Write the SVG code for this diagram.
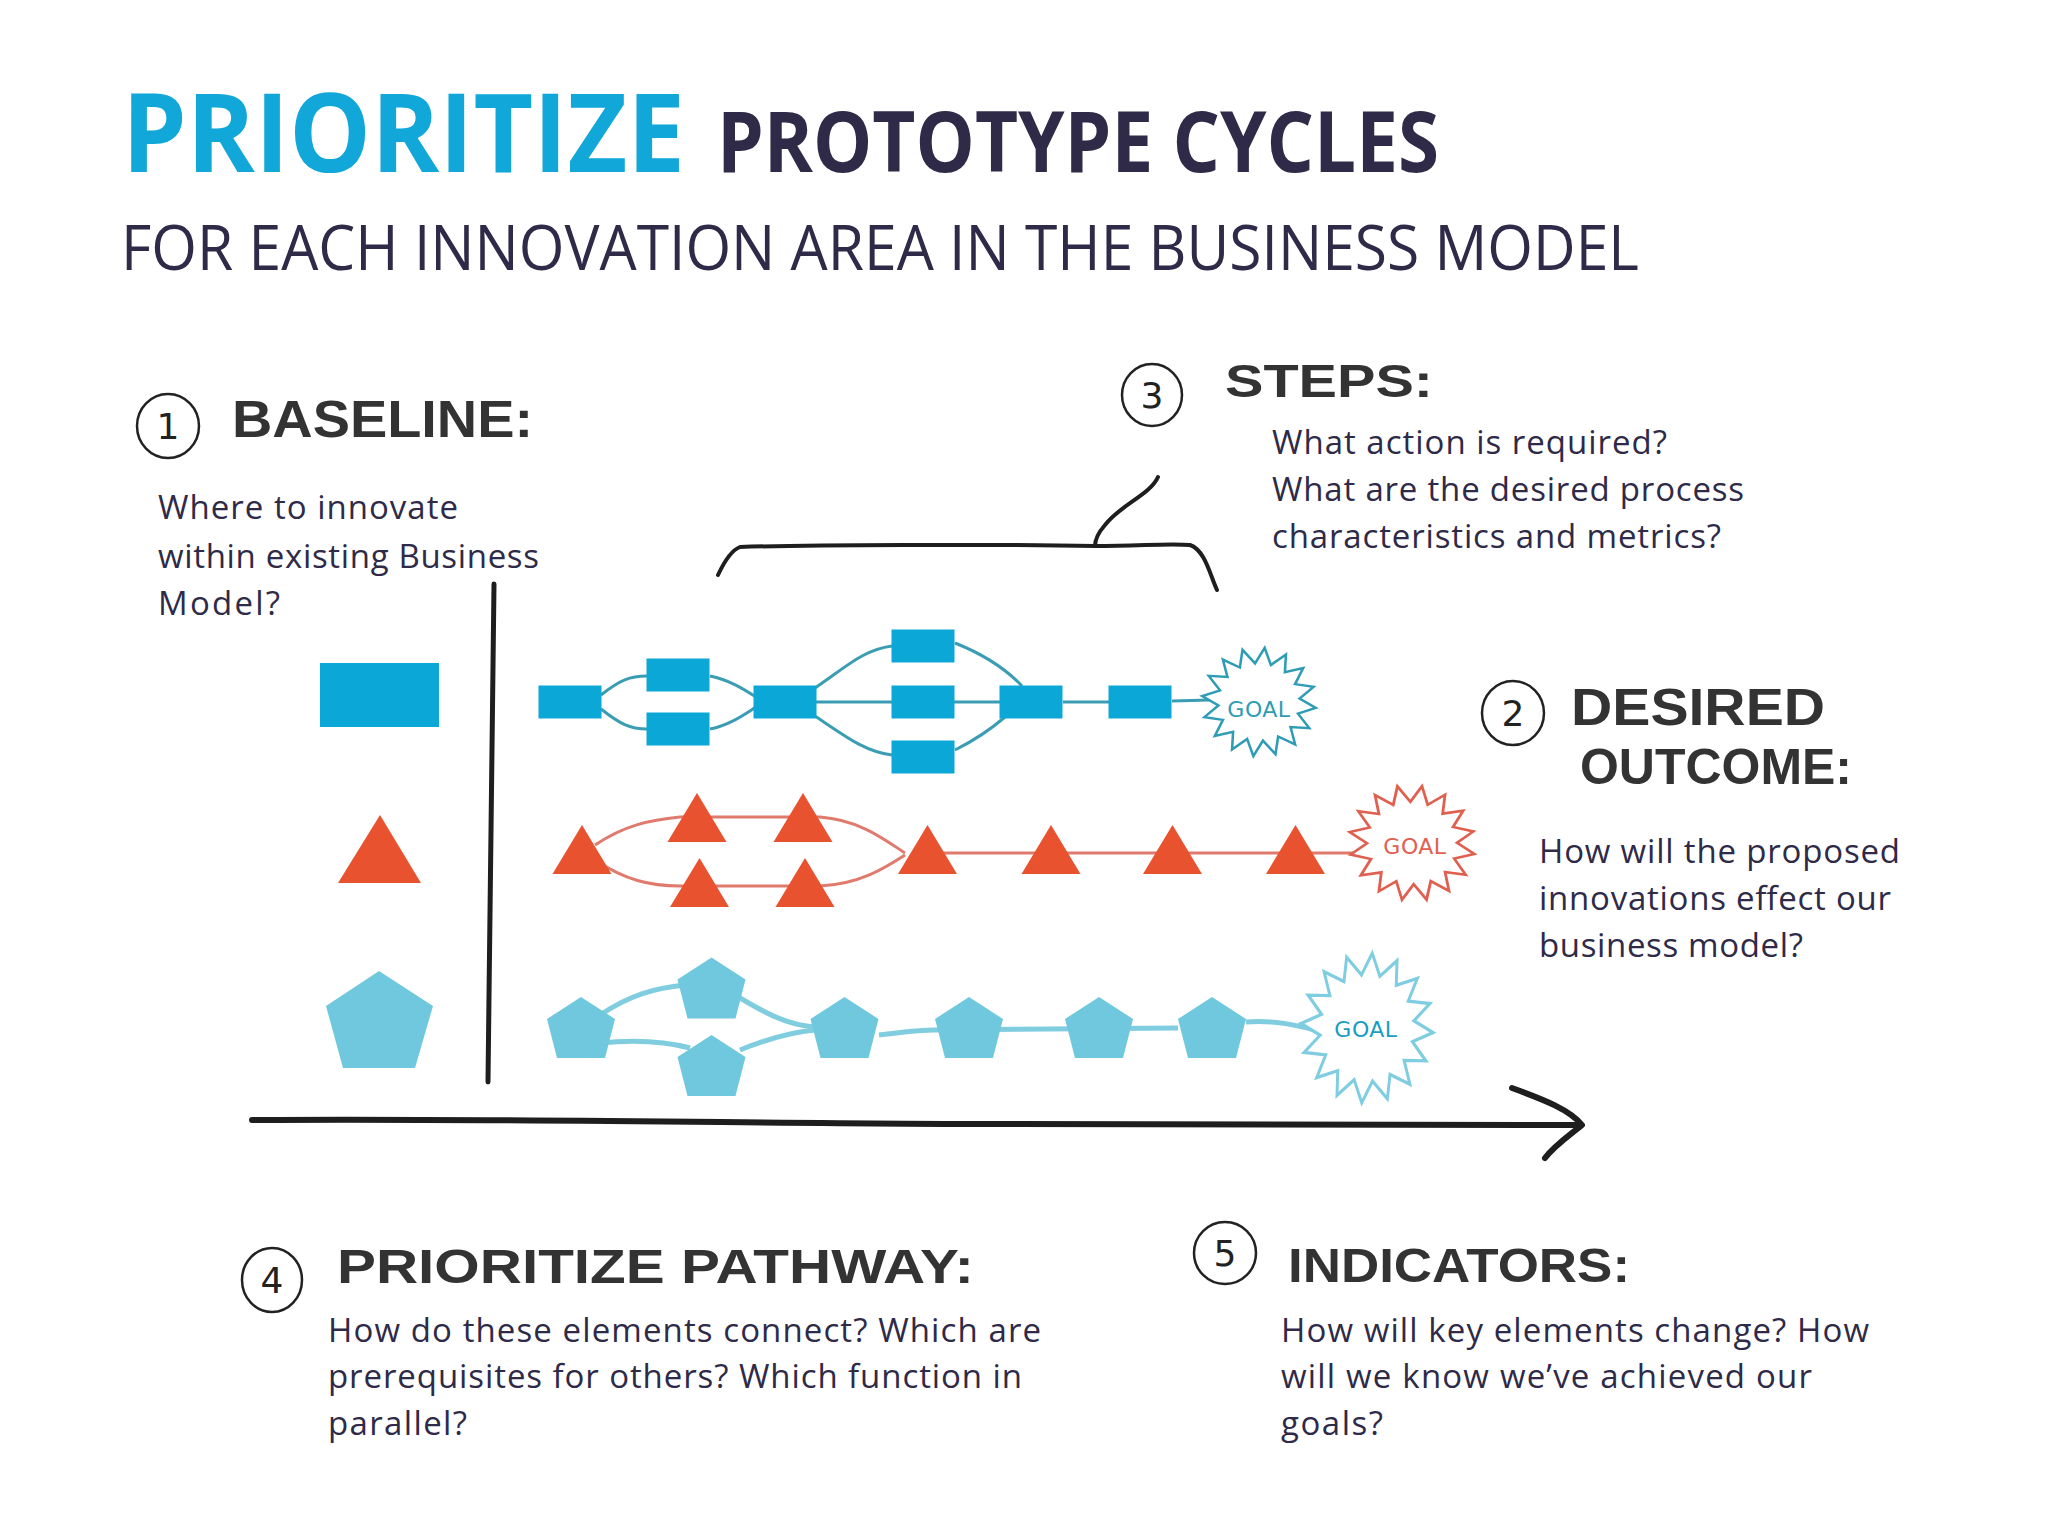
<svg xmlns="http://www.w3.org/2000/svg" width="2048" height="1536" viewBox="0 0 2048 1536">
<style>
.body{font-family:"Open Sans","Liberation Sans",sans-serif;font-size:33px;fill:#2e2a48}
.hand{font-family:"Liberation Sans","DejaVu Sans",sans-serif;font-weight:900;fill:#333333}
.num{font-family:"DejaVu Sans","Liberation Sans",sans-serif;font-size:36px;fill:#222222;text-anchor:middle}
.ring{fill:none;stroke:#222222;stroke-width:2.5}
.ink{fill:none;stroke:#1e1e1e;stroke-linecap:round;stroke-linejoin:round}
.sq{fill:#0ba7d7}
.tri{fill:#e8522f}
.pent{fill:#6fc8de}
.c1{fill:none;stroke:#3b9db3;stroke-width:3}
.c2{fill:none;stroke:#e07a6c;stroke-width:3}
.c3{fill:none;stroke:#80cde0;stroke-width:5}
.goaltxt{font-family:"DejaVu Sans","Liberation Sans",sans-serif;font-size:22px;text-anchor:middle;letter-spacing:0.5px}
</style>
<defs>
<rect id="sqShape" x="-31.5" y="-16.5" width="63" height="33"/>
<polygon id="triShape" points="0,-24.5 29.5,24.5 -29.5,24.5"/>
<polygon id="pentShape" points="0,-30.5 34,-8.5 24,30.5 -24,30.5 -34,-8.5"/>
<polygon id="burst" points="56,0 39.2,7.8 51.7,21.4 33.3,22.2 39.6,39.6 22.2,33.3 21.4,51.7 7.8,39.2 0,56 -7.8,39.2 -21.4,51.7 -22.2,33.3 -39.6,39.6 -33.3,22.2 -51.7,21.4 -39.2,7.8 -56,0 -39.2,-7.8 -51.7,-21.4 -33.3,-22.2 -39.6,-39.6 -22.2,-33.3 -21.4,-51.7 -7.8,-39.2 0,-56 7.8,-39.2 21.4,-51.7 22.2,-33.3 39.6,-39.6 33.3,-22.2 51.7,-21.4 39.2,-7.8"/>
</defs>
<rect width="2048" height="1536" fill="#ffffff"/>

<g id="title">
<text x="122" y="172" font-family="'Open Sans','Liberation Sans',sans-serif" font-weight="700" font-size="109" fill="#11a7d8" textLength="563" lengthAdjust="spacingAndGlyphs">PRIORITIZE</text>
<text x="717" y="172" font-family="'Open Sans','Liberation Sans',sans-serif" font-weight="700" font-size="84" fill="#2e2a48" textLength="722" lengthAdjust="spacingAndGlyphs">PROTOTYPE CYCLES</text>
<text x="121" y="270" font-family="'Open Sans','Liberation Sans',sans-serif" font-size="62" fill="#2e2a48" textLength="1518" lengthAdjust="spacingAndGlyphs">FOR EACH INNOVATION AREA IN THE BUSINESS MODEL</text>
</g>

<g id="baseline-label">
<ellipse class="ring" cx="168" cy="426" rx="31" ry="32"/>
<text class="num" x="168" y="439">1</text>
<text class="hand" x="232" y="437" font-size="52" textLength="301" lengthAdjust="spacingAndGlyphs">BASELINE:</text>
<text class="body" x="158" y="519" textLength="300">Where to innovate</text>
<text class="body" x="158" y="568" textLength="381">within existing Business</text>
<text class="body" x="158" y="615" textLength="122">Model?</text>
</g>

<g id="steps-label">
<ellipse class="ring" cx="1152" cy="395" rx="30" ry="31"/>
<text class="num" x="1152" y="408">3</text>
<text class="hand" x="1225" y="397" font-size="46" textLength="208" lengthAdjust="spacingAndGlyphs">STEPS:</text>
<text class="body" x="1272" y="454" textLength="395">What action is required?</text>
<text class="body" x="1272" y="501" textLength="472">What are the desired process</text>
<text class="body" x="1272" y="548" textLength="449">characteristics and metrics?</text>
</g>

<g id="outcome-label">
<ellipse class="ring" cx="1513" cy="713" rx="31" ry="32"/>
<text class="num" x="1513" y="726">2</text>
<text class="hand" x="1571" y="725" font-size="52" textLength="254" lengthAdjust="spacingAndGlyphs">DESIRED</text>
<text class="hand" x="1580" y="784" font-size="50" textLength="272" lengthAdjust="spacingAndGlyphs">OUTCOME:</text>
<text class="body" x="1539" y="863" textLength="361">How will the proposed</text>
<text class="body" x="1539" y="910" textLength="352">innovations effect our</text>
<text class="body" x="1539" y="957" textLength="264">business model?</text>
</g>

<g id="pathway-label">
<ellipse class="ring" cx="272" cy="1280" rx="30" ry="32"/>
<text class="num" x="272" y="1293">4</text>
<text class="hand" x="337" y="1283" font-size="49" textLength="637" lengthAdjust="spacingAndGlyphs">PRIORITIZE PATHWAY:</text>
<text class="body" x="328" y="1342" textLength="713">How do these elements connect? Which are</text>
<text class="body" x="328" y="1388" textLength="694">prerequisites for others? Which function in</text>
<text class="body" x="328" y="1435" textLength="139">parallel?</text>
</g>

<g id="indicators-label">
<ellipse class="ring" cx="1225" cy="1253" rx="31" ry="31"/>
<text class="num" x="1225" y="1266">5</text>
<text class="hand" x="1288" y="1282" font-size="48" textLength="342" lengthAdjust="spacingAndGlyphs">INDICATORS:</text>
<text class="body" x="1281" y="1342" textLength="588">How will key elements change? How</text>
<text class="body" x="1281" y="1388" textLength="531">will we know we’ve achieved our</text>
<text class="body" x="1281" y="1435" textLength="102">goals?</text>
</g>

<g id="axes">
<path class="ink" stroke-width="5" d="M494,584 C493,700 490,900 488,1082"/>
<path class="ink" stroke-width="6" d="M252,1120 C500,1118 800,1124 1000,1124 S1400,1123 1580,1125"/>
<path class="ink" stroke-width="6" d="M1512,1088 C1545,1100 1570,1110 1582,1125 C1570,1135 1555,1145 1545,1158"/>
<path class="ink" stroke-width="4" d="M718,575 C725,560 732,550 740,547 C800,545 1000,544 1095,546 C1140,546 1170,543 1190,545 C1205,550 1210,575 1217,590"/>
<path class="ink" stroke-width="4" d="M1158,477 C1150,495 1120,505 1105,525 C1098,533 1095,540 1095,546"/>
</g>

<g id="connectors">
<path class="c1" d="M601,695 C620,680 630,676 647,676"/>
<path class="c1" d="M601,709 C620,724 630,729 647,729"/>
<path class="c1" d="M710,676 C730,680 745,690 756,697"/>
<path class="c1" d="M710,729 C730,725 745,714 756,707"/>
<path class="c1" d="M812,690 C845,668 862,650 892,646"/>
<path class="c1" d="M816,702 L1000,702"/>
<path class="c1" d="M812,714 C845,736 865,752 892,755"/>
<path class="c1" d="M955,643 C985,655 1005,668 1022,686"/>
<path class="c1" d="M955,750 C975,740 990,730 1005,717"/>
<path class="c1" d="M1063,702 L1109,702"/>
<path class="c1" d="M1172,701 L1210,700"/>
<path class="c2" d="M595,845 C625,825 650,820 680,817 L820,817 C860,820 885,840 905,853"/>
<path class="c2" d="M595,860 C625,880 650,886 680,886 L820,886 C860,884 885,868 905,855"/>
<path class="c2" d="M930,853 L1355,853"/>
<path class="c3" d="M600,1015 C630,995 655,988 685,985"/>
<path class="c3" d="M600,1043 C630,1040 660,1040 690,1048"/>
<path class="c3" d="M735,995 C760,1010 785,1025 815,1027"/>
<path class="c3" d="M740,1050 C765,1040 790,1032 815,1030"/>
<path class="c3" d="M879,1035 C900,1033 915,1030 934,1030 L1178,1028"/>
<path class="c3" d="M1246,1022 C1275,1020 1295,1025 1315,1030"/>
</g>

<g id="baseline-square"><rect class="sq" x="320" y="663" width="119" height="64"/></g>
<g id="baseline-triangle"><polygon class="tri" points="380,815 421,883 338,883"/></g>
<g id="baseline-pentagon"><polygon class="pent" points="379,971 433,1006 415,1068 343,1068 326,1006"/></g>

<g id="sq1"><use href="#sqShape" class="sq" x="570" y="702"/></g>
<g id="sq2"><use href="#sqShape" class="sq" x="678" y="675"/></g>
<g id="sq3"><use href="#sqShape" class="sq" x="678" y="729"/></g>
<g id="sq4"><use href="#sqShape" class="sq" x="785" y="702"/></g>
<g id="sq5"><use href="#sqShape" class="sq" x="923" y="646"/></g>
<g id="sq6"><use href="#sqShape" class="sq" x="923" y="702"/></g>
<g id="sq7"><use href="#sqShape" class="sq" x="923" y="757"/></g>
<g id="sq8"><use href="#sqShape" class="sq" x="1031" y="702"/></g>
<g id="sq9"><use href="#sqShape" class="sq" x="1140" y="702"/></g>
<g id="goal1">
<use href="#burst" transform="translate(1259,702) rotate(6) scale(1.02,0.97)" fill="#ffffff" stroke="#2e9cb5" stroke-width="2.5" vector-effect="non-scaling-stroke"/>
<text class="goaltxt" x="1259" y="717" fill="#2e9cb5">GOAL</text>
</g>

<g id="tri1"><use href="#triShape" class="tri" x="582" y="849.5"/></g>
<g id="tri2"><use href="#triShape" class="tri" x="697" y="817.5"/></g>
<g id="tri3"><use href="#triShape" class="tri" x="803" y="817.5"/></g>
<g id="tri4"><use href="#triShape" class="tri" x="699.5" y="882.5"/></g>
<g id="tri5"><use href="#triShape" class="tri" x="805" y="882.5"/></g>
<g id="tri6"><use href="#triShape" class="tri" x="927.5" y="849.5"/></g>
<g id="tri7"><use href="#triShape" class="tri" x="1051" y="849.5"/></g>
<g id="tri8"><use href="#triShape" class="tri" x="1172.5" y="849.5"/></g>
<g id="tri9"><use href="#triShape" class="tri" x="1295.5" y="849.5"/></g>
<g id="goal2">
<use href="#burst" transform="translate(1412,843) rotate(10) scale(1.13,1.03)" fill="#ffffff" stroke="#e0604f" stroke-width="2.5" vector-effect="non-scaling-stroke"/>
<text class="goaltxt" x="1415" y="854" fill="#e0604f">GOAL</text>
</g>

<g id="pent1"><use href="#pentShape" class="pent" x="581" y="1027.5"/></g>
<g id="pent2"><use href="#pentShape" class="pent" x="711.5" y="988"/></g>
<g id="pent3"><use href="#pentShape" class="pent" x="711.5" y="1065.5"/></g>
<g id="pent4"><use href="#pentShape" class="pent" x="844.5" y="1027.5"/></g>
<g id="pent5"><use href="#pentShape" class="pent" x="969" y="1027.5"/></g>
<g id="pent6"><use href="#pentShape" class="pent" x="1099" y="1027.5"/></g>
<g id="pent7"><use href="#pentShape" class="pent" x="1212" y="1027.5"/></g>
<g id="goal3">
<use href="#burst" transform="translate(1367,1028) rotate(4) scale(1.18,1.34)" fill="#ffffff" stroke="#7fcde0" stroke-width="2.5" vector-effect="non-scaling-stroke"/>
<text class="goaltxt" x="1366" y="1037" fill="#1a9cc4">GOAL</text>
</g>
</svg>
